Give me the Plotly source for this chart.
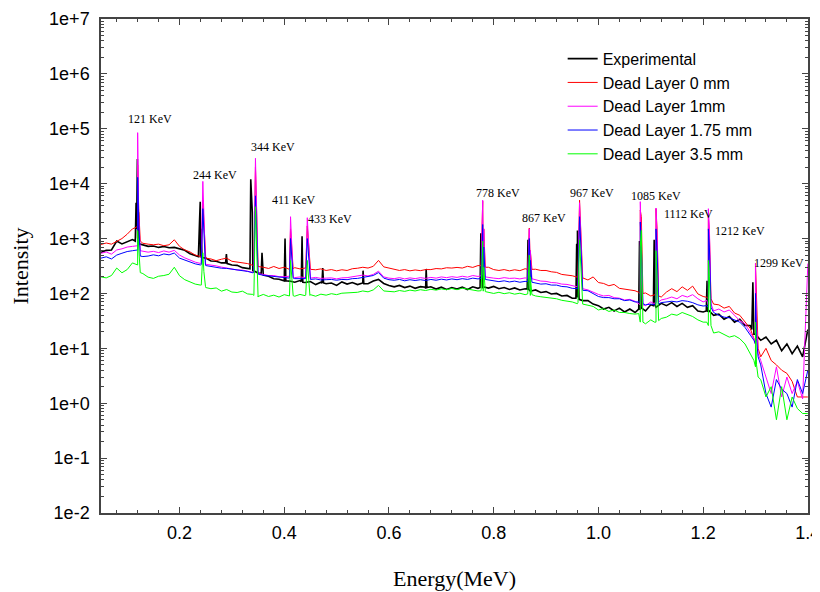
import numpy as np
import plotly.graph_objects as go

# ---------------- data ----------------
energy_grid = np.round(np.arange(0.05, 1.4001, 0.01), 2)  # MeV, 136 channels

black_base = [
    560, 610, 620, 900, 800, 880, 960, 1000, 760, 720,
    730, 690, 715, 680, 690, 640, 610, 530, 500, 450,
    440, 390, 385, 360, 355, 330, 325, 295, 285, 255,
    235, 215, 205, 185, 182, 170, 168, 160, 172, 158,
    165, 145, 160, 150, 155, 140, 162, 148, 158, 145,
    155, 150, 168, 180, 152, 140, 132, 140, 128, 136,
    124, 133, 122, 132, 120, 130, 118, 128, 120, 130,
    118, 132, 124, 132, 125, 134, 122, 128, 118, 126,
    116, 122, 110, 116, 104, 108, 98, 100, 90, 92,
    82, 84, 74, 74, 64, 60, 52, 56, 48, 54,
    46, 52, 45, 50, 48, 62, 56, 66, 60, 68,
    58, 66, 56, 60, 48, 46, 50, 40, 42, 34,
    38, 30, 34, 26, 26, 18, 14, 16, 12, 14,
    9, 12, 8, 11, 7, 22]

red_base = [
    780, 830, 790, 880, 1000, 1200, 1500, 1700, 820, 790,
    770, 790, 740, 770, 950, 720, 620, 570, 500, 470,
    440, 425, 395, 420, 440, 385, 375, 355, 350, 325,
    310, 300, 285, 310, 285, 300, 275, 295, 280, 290,
    275, 270, 280, 262, 272, 258, 270, 262, 282, 288,
    300, 290, 312, 400, 305, 290, 272, 262, 272, 258,
    268, 260, 272, 272, 284, 280, 294, 290, 298, 290,
    312, 298, 322, 318, 300, 272, 262, 272, 258, 270,
    260, 282, 268, 276, 262, 262, 248, 242, 222, 218,
    210, 198, 192, 176, 200, 158, 152, 138, 146, 124,
    120, 114, 112, 98, 102, 90, 96, 86, 106, 122,
    108, 132, 114, 136, 98, 88, 80, 64, 62, 54,
    58, 44, 40, 30, 23, 12, 7, 10, 6, 5,
    4, 3.5, 2.5, 1.3, 1.3, 1.3]

magenta_base = [
    540, 570, 520, 620, 650, 700, 720, 740, 590, 565,
    585, 555, 595, 565, 610, 500, 445, 400, 372, 352,
    340, 332, 318, 302, 290, 282, 268, 266, 252, 242,
    228, 222, 212, 212, 202, 202, 206, 194, 200, 194,
    190, 196, 188, 190, 192, 184, 192, 194, 202, 204,
    216, 208, 222, 255, 200, 190, 186, 194, 184, 192,
    186, 194, 188, 196, 190, 200, 194, 202, 196, 206,
    198, 212, 204, 216, 194, 190, 186, 194, 188, 190,
    184, 192, 178, 178, 168, 166, 158, 156, 148, 146,
    138, 132, 122, 116, 104, 96, 90, 92, 84, 82,
    76, 78, 72, 62, 60, 70, 72, 76, 80, 86,
    80, 92, 86, 95, 80, 70, 60, 48, 52, 46,
    50, 40, 32, 28, 20, 12, 6, 3, 1.5, 4.6,
    1.3, 3, 1.5, 2.5, 1.2, 350]

blue_base = [
    440, 465, 425, 500, 540, 580, 600, 620, 470, 480,
    505, 485, 525, 505, 545, 440, 402, 368, 346, 330,
    322, 308, 302, 288, 286, 278, 272, 258, 252, 238,
    226, 214, 210, 204, 200, 194, 190, 186, 186, 184,
    180, 184, 176, 178, 180, 174, 180, 178, 186, 188,
    196, 198, 212, 240, 190, 178, 174, 180, 170, 178,
    172, 178, 172, 180, 174, 182, 176, 184, 178, 186,
    180, 190, 184, 190, 175, 170, 164, 170, 162, 168,
    160, 166, 156, 156, 148, 150, 142, 142, 134, 132,
    124, 122, 114, 112, 98, 88, 84, 84, 80, 80,
    74, 76, 70, 70, 62, 64, 66, 68, 70, 72,
    70, 74, 72, 68, 62, 59, 55, 45, 40, 37,
    36, 33, 30, 24, 18, 12, 5, 1.5, 0.85, 2.7,
    1.8, 1.5, 0.85, 2.7, 1.5, 4]

green_base = [
    200, 192, 212, 290, 238, 272, 360, 330, 230, 198,
    188, 206, 212, 224, 300, 210, 178, 162, 148, 142,
    128, 122, 126, 110, 118, 106, 104, 110, 98, 96,
    86, 96, 88, 93, 86, 95, 90, 89, 96, 91,
    95, 89, 97, 93, 99, 95, 101, 102, 105, 105,
    111, 107, 116, 140, 111, 110, 107, 113, 109, 115,
    111, 117, 113, 119, 115, 121, 117, 123, 117, 125,
    119, 116, 111, 110, 104, 100, 105, 99, 103, 97,
    101, 95, 92, 90, 87, 85, 81, 80, 75, 72,
    70, 65, 64, 61, 58, 50, 53, 47, 50, 45,
    45, 43, 42, 30, 28, 33, 30, 35, 37, 42,
    40, 45, 42, 38, 33, 30, 26, 19, 20, 18,
    16, 17, 15, 12, 8, 4.6, 2.7, 1.3, 2, 0.5,
    2, 0.5, 1.3, 0.8, 0.65, 0.65]

# simulated photopeaks (shoulder, top, second channel, shoulder)
sim_peak_x = [
    0.117, 0.120, 0.122, 0.125,
    0.2415, 0.2445, 0.2465, 0.2495,
    0.342, 0.345, 0.347, 0.350,
    0.409, 0.412, 0.414, 0.417,
    0.441, 0.444, 0.446, 0.449,
    0.776, 0.779, 0.781, 0.784,
    0.865, 0.868, 0.870, 0.873,
    0.961, 0.964, 0.966, 0.969,
    1.077, 1.080, 1.082, 1.085,
    1.107, 1.110, 1.112, 1.115,
    1.207, 1.210, 1.212, 1.215,
    1.297, 1.300, 1.302, 1.305]

red_peak = [
    1600, 22000, 3500, 900,
    460, 5000, 2000, 440,
    320, 20000, 4000, 310,
    285, 1500, 800, 280,
    290, 1700, 800, 285,
    320, 4800, 1500, 300,
    275, 1550, 600, 275,
    205, 5000, 1500, 195,
    105, 3300, 2500, 100,
    95, 3500, 1500, 90,
    85, 2500, 1200, 80,
    15, 350, 60, 10]

magenta_peak = [
    730, 85000, 2500, 600,
    355, 11000, 2000, 345,
    240, 29000, 3000, 230,
    205, 2500, 900, 200,
    196, 2400, 900, 192,
    210, 5000, 1500, 200,
    188, 1500, 600, 185,
    135, 4500, 1500, 130,
    65, 4700, 800, 62,
    65, 3600, 1200, 70,
    75, 3500, 1500, 65,
    15, 350, 30, 8]

blue_peak = [
    610, 13000, 2000, 480,
    335, 3500, 1000, 325,
    245, 6000, 2000, 225,
    192, 1000, 500, 190,
    186, 1000, 500, 184,
    188, 1800, 700, 180,
    164, 1000, 400, 160,
    122, 2500, 800, 118,
    71, 2000, 700, 65,
    62, 1500, 600, 64,
    60, 1500, 700, 56,
    14, 100, 15, 7]

green_peak = [
    340, 1400, 600, 240,
    142, 550, 250, 135,
    92, 3800, 700, 88,
    93, 400, 200, 91,
    93, 400, 200, 92,
    112, 900, 300, 108,
    98, 500, 200, 95,
    68, 950, 300, 65,
    43, 700, 1400, 30,
    30, 600, 200, 32,
    30, 400, 200, 26,
    6, 30, 5, 3]

# experimental peaks (slightly shifted calibration)
exp_peak_x = [
    0.1155, 0.117, 0.118, 0.1195, 0.1215, 0.123,
    0.236, 0.238, 0.2395, 0.241, 0.243,
    0.288, 0.2895, 0.291,
    0.3345, 0.336, 0.3375, 0.339, 0.341,
    0.356, 0.3575, 0.359,
    0.400, 0.4015, 0.403,
    0.4325, 0.434, 0.4355,
    0.472, 0.4735, 0.475,
    0.549, 0.5505, 0.552,
    0.6695, 0.671, 0.6725,
    0.774, 0.7755, 0.777, 0.7785,
    0.864, 0.8655, 0.867,
    0.957, 0.9585, 0.960, 0.9615, 0.963,
    1.077, 1.0785, 1.080, 1.0815,
    1.105, 1.1065, 1.108,
    1.206, 1.2075, 1.209,
    1.293, 1.295, 1.297]

exp_peak_y = [
    900, 4500, 1500, 28000, 3000, 800,
    470, 1800, 4700, 1500, 450,
    360, 520, 350,
    280, 12000, 4000, 3000, 260,
    230, 550, 215,
    180, 1000, 170,
    165, 1100, 160,
    155, 290, 155,
    150, 260, 150,
    130, 280, 128,
    128, 1250, 500, 125,
    120, 950, 118,
    82, 800, 1400, 300, 78,
    52, 900, 600, 55,
    60, 950, 62,
    48, 170, 46,
    22, 160, 18]

series_names = ["Experimental", "Dead Layer 0 mm", "Dead Layer 1mm",
                "Dead Layer 1.75 mm", "Dead Layer 3.5 mm"]
series_colors = ["#000000", "#ff0000", "#ff00ff", "#0000ff", "#00ff00"]

peak_labels = ["121 KeV", "244 KeV", "344 KeV", "411 KeV", "433 KeV", "778 KeV",
               "867 KeV", "967 KeV", "1085 KeV", "1112 KeV", "1212 KeV", "1299 KeV"]
label_x = [0.143, 0.267, 0.378, 0.418, 0.487, 0.808,
           0.897, 0.987, 1.110, 1.173, 1.270, 1.344]
label_y = [5.17, 4.15, 4.66, 3.70, 3.36, 3.83, 3.37, 3.83, 3.78, 3.44, 3.13, 2.55]

assert len(energy_grid) == len(black_base) == len(red_base) == len(magenta_base) \
    == len(blue_base) == len(green_base)


def merge(xa, ya, xb, yb):
    x = np.concatenate([np.asarray(xa, float), np.asarray(xb, float)])
    y = np.concatenate([np.asarray(ya, float), np.asarray(yb, float)])
    order = np.argsort(x, kind="stable")
    return x[order], y[order]


curves = [
    merge(energy_grid, black_base, exp_peak_x, exp_peak_y),
    merge(energy_grid, red_base, sim_peak_x, red_peak),
    merge(energy_grid, magenta_base, sim_peak_x, magenta_peak),
    merge(energy_grid, blue_base, sim_peak_x, blue_peak),
    merge(energy_grid, green_base, sim_peak_x, green_peak),
]

fig = go.Figure()
for (x, y), name, color in zip(curves, series_names, series_colors):
    fig.add_trace(go.Scatter(
        x=x, y=y, mode="lines", name=name,
        line=dict(color=color, width=1.6 if color == "#000000" else 1.0),
    ))

for txt, lx, ly in zip(peak_labels, label_x, label_y):
    fig.add_annotation(x=lx, y=ly, xref="x", yref="y", text=txt, showarrow=False,
                       font=dict(family="Liberation Serif, Times New Roman, serif",
                                 size=12, color="#000"))

axis_col = "#444444"
# the page body has an 8 px margin, so the figure is 8 px smaller on each side
fig.update_layout(
    width=812, height=584,
    margin=dict(l=93, r=12, t=11, b=79),
    paper_bgcolor="white", plot_bgcolor="white",
    font=dict(family="Liberation Sans, Arial, sans-serif", size=18, color="#000"),
    showlegend=True,
    legend=dict(x=0.653, y=0.954, xanchor="left", yanchor="top",
                bgcolor="rgba(0,0,0,0)", borderwidth=0,
                font=dict(family="Liberation Sans, Arial, sans-serif", size=16, color="#000"),
                tracegroupgap=0),
)
fig.update_xaxes(
    range=[0.05, 1.4003], tick0=0, dtick=0.2, tickformat=".1f",
    automargin=False, ticklabeloverflow="allow",
    showgrid=False, zeroline=False,
    showline=True, linecolor=axis_col, linewidth=1.5, mirror="ticks",
    ticks="inside", ticklen=6, tickcolor=axis_col,
    minor=dict(ticks="inside", ticklen=3.5, dtick=0.04, tick0=0, tickcolor=axis_col, showgrid=False),
    tickfont=dict(size=18), ticklabelstandoff=3,
    title=dict(text="Energy(MeV)", standoff=28,
               font=dict(family="Liberation Serif, Times New Roman, serif", size=22)),
)
fig.update_yaxes(
    type="log", range=[-2, 7],
    automargin=False,
    tickvals=[1e-2, 1e-1, 1e0, 1e1, 1e2, 1e3, 1e4, 1e5, 1e6, 1e7],
    ticktext=["1e-2", "1e-1", "1e+0", "1e+1", "1e+2", "1e+3", "1e+4", "1e+5", "1e+6", "1e+7"],
    showgrid=False, zeroline=False,
    showline=True, linecolor=axis_col, linewidth=1.5, mirror="ticks",
    ticks="inside", ticklen=6, tickcolor=axis_col,
    minor=dict(ticks="inside", ticklen=3.5, dtick="D1", tickcolor=axis_col, showgrid=False),
    tickfont=dict(size=18), ticklabelstandoff=6,
    title=dict(text="Intensity", standoff=20,
               font=dict(family="Liberation Serif, Times New Roman, serif", size=22)),
)

fig.write_html("out.html")
